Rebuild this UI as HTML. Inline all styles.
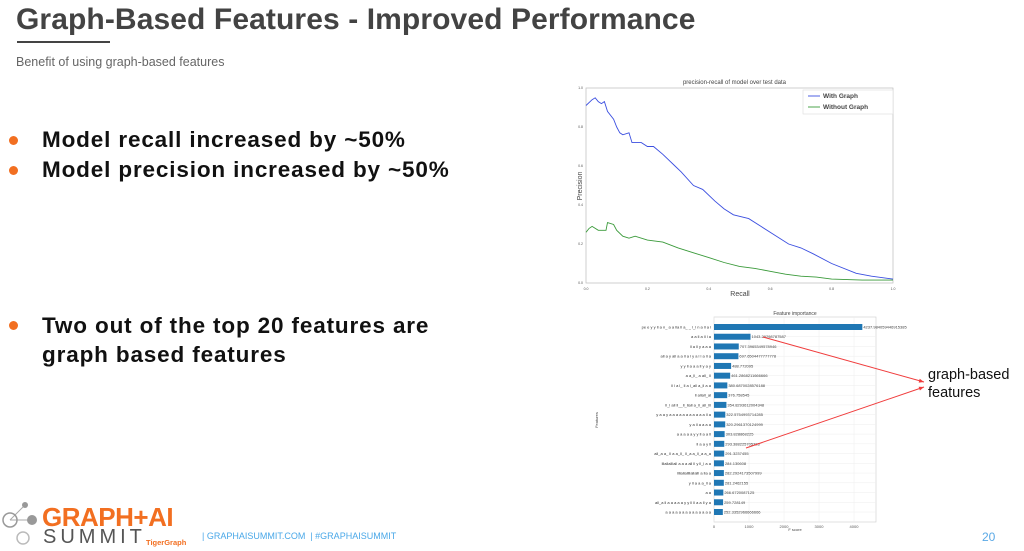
<!DOCTYPE html>
<html><head><meta charset="utf-8"><style>
body{margin:0;width:1024px;height:551px;background:#fff;position:relative;overflow:hidden;font-family:"Liberation Sans",sans-serif}
.a{position:absolute;white-space:nowrap}
.b{font-weight:bold;font-size:22.5px;letter-spacing:0.85px;color:#111}
.dot{position:absolute;width:9px;height:9px;border-radius:50%;background:#f26f21}
</style></head><body>
<div class="a" style="left:16px;top:3px;font-size:30px;letter-spacing:0.1px;font-weight:bold;color:#434343">Graph-Based Features - Improved Performance</div>
<div class="a" style="left:17px;top:41px;width:93px;height:2px;background:#444"></div>
<div class="a" style="left:16px;top:55px;font-size:12.5px;color:#666">Benefit of using graph-based features</div>
<div class="dot" style="left:9px;top:136px"></div>
<div class="a b" style="left:42px;top:127px">Model recall increased by ~50%</div>
<div class="dot" style="left:9px;top:166px"></div>
<div class="a b" style="left:42px;top:157px">Model precision increased by ~50%</div>
<div class="dot" style="left:9px;top:321px"></div>
<div class="a b" style="left:42px;top:311px;line-height:29px">Two out of the top 20 features are<br>graph based features</div>
<div class="a" style="left:928px;top:366px;font-size:14.5px;line-height:18px;color:#111">graph-based<br>features</div>
<div class="a" style="left:982px;top:530px;font-size:12px;color:#5aa9e6">20</div>
<div class="a" style="left:202px;top:531px;font-size:9px;color:#4aa8e8">| GRAPHAISUMMIT.COM &nbsp;| #GRAPHAISUMMIT</div>
<div class="a" style="left:42px;top:502px;font-size:26px;font-weight:bold;color:#f26f21;letter-spacing:-0.5px">GRAPH+AI</div>
<div class="a" style="left:43px;top:526px;font-size:20px;color:#555;letter-spacing:4px">SUMMIT</div>
<div class="a" style="left:146px;top:538px;font-size:7.5px;font-weight:bold;color:#f26f21">TigerGraph</div>
<svg class="a" style="left:0;top:498px" width="42" height="50">
<line x1="24" y1="8" x2="10" y2="22" stroke="#aaa"/><line x1="10" y1="22" x2="32" y2="22" stroke="#aaa"/>
<circle cx="25" cy="7" r="3" fill="#999"/><circle cx="10" cy="22" r="7" fill="none" stroke="#999" stroke-width="1.5"/><circle cx="32" cy="22" r="5" fill="#999"/><circle cx="23" cy="40" r="6" fill="none" stroke="#bbb" stroke-width="1.5"/></svg>
<svg id="pr" class="a" style="left:0;top:0" width="1024" height="551"></svg>
<script>
const recallBlue=[0,0.02,0.03,0.04,0.05,0.06,0.07,0.09,0.1,0.11,0.12,0.14,0.15,0.18,0.2,0.22,0.25,0.29,0.31,0.35,0.38,0.42,0.45,0.48,0.53,0.57,0.61,0.66,0.7,0.74,0.8,0.88,0.93,1.0];
const precBlue=[0.91,0.94,0.95,0.93,0.92,0.93,0.88,0.84,0.8,0.77,0.76,0.77,0.72,0.72,0.7,0.7,0.66,0.6,0.57,0.5,0.48,0.42,0.38,0.35,0.33,0.29,0.25,0.2,0.18,0.15,0.1,0.05,0.035,0.02];
const recallGreen=[0,0.01,0.02,0.04,0.06,0.065,0.07,0.09,0.1,0.12,0.14,0.16,0.2,0.25,0.3,0.35,0.4,0.45,0.5,0.55,0.6,0.65,0.7,0.75,0.8,0.9,1.0];
const precGreen=[0.26,0.28,0.29,0.27,0.27,0.27,0.31,0.3,0.27,0.24,0.23,0.24,0.22,0.21,0.18,0.155,0.13,0.105,0.085,0.075,0.06,0.045,0.035,0.03,0.02,0.015,0.015];
const prTicks=[0,0.2,0.4,0.6,0.8,1.0];
const featValues=[4237.98,1043.29,707.40,697.65,488.77,461.29,380.69,376.76,354.83,322.58,320.30,303.83,293.39,291.32,284.13,282.29,281.25,266.67,259.73,252.34];
const featLabels=["4237.984059446915385","1043.29298787587","707.3965349578946","697.6504477777778","488.772095","461.2868211666666","380.6870028576188","376.758545","354.8293612004348","322.5754993714285","320.2961370124999","303.828868225","293.388225705323","291.3237455","284.130608","282.2924173507999","281.2462155","266.6720087125","259.728149","252.3352966666666"];
const featNames=["pe e y y ll a n_ a a lla ll a_ _ l_l n a ll a l","a a ll a ll l a","ll a ll y a a a","all a y all a a ll a l y a l l a ll a","y y ll a a a ll y a y","a a_ll_ a all_ ll","ll l a l_ ll a l_all a_ll a a","ll allall_al","ll_l all ll__ll_llall a_ll_all_lll","y a a y a a a a a a a a a a a ll a","y a ll a a a a","a a a a a y y ll a a ll","ll a a y ll","all_a a_ ll a a_ll_ ll_a a_ll_a a_a","lllallalllall a a a all ll y ll_l a a","llllallallllallalll a lla a","y ll a a a_ll a","a a","all_a ll a a a a a y y ll ll a a ll y a","a a a a a a a a a a a a a a"];
const featTicks=[0,1000,2000,3000,4000];
const NS="http://www.w3.org/2000/svg";
const svg=document.getElementById('pr');
function mk(tag,at,parent){const e=document.createElementNS(NS,tag);for(const k in at)e.setAttribute(k,at[k]);(parent||svg).appendChild(e);return e;}
const px0=586,px1=893,py0=283,py1=88;
const X=r=>px0+r*(px1-px0), Y=p=>py0-p*(py0-py1);
let ax=mk('rect',{x:px0,y:py1,width:px1-px0,height:py0-py1,fill:'#fff',stroke:'#bbb','stroke-width':0.7});


prTicks.forEach(t=>{
 let a=mk('text',{x:X(t),y:py0+7,'font-size':3.5,'text-anchor':'middle',fill:'#555'});a.textContent=t.toFixed(1);
 
 
 let b=mk('text',{x:px0-3,y:Y(t)+1,'font-size':3.5,'text-anchor':'end',fill:'#555'});b.textContent=t.toFixed(1);
 
 
});
function line(xs,ys,col,name){let d=xs.map((r,i)=>(i?'L':'M')+X(r).toFixed(1)+','+Y(ys[i]).toFixed(1)).join('');
 let p=mk('path',{d:d,fill:'none',stroke:col,'stroke-width':0.9});
 
 }
line(recallBlue,precBlue,'#3b4fe0','with-graph-line');
line(recallGreen,precGreen,'#3a9a3a','without-graph-line');
let t=mk('text',{x:(px0+px1)/2-5,y:py1-4,'font-size':6,'text-anchor':'middle',fill:'#444'});t.textContent='precision-recall of model over test data';


t=mk('text',{x:740,y:296,'font-size':7,'text-anchor':'middle',fill:'#444'});t.textContent='Recall';


t=mk('text',{x:582,y:186,'font-size':7,'text-anchor':'middle',fill:'#444',transform:'rotate(-90 582 186)'});t.textContent='Precision';


let lg=mk('rect',{x:803,y:90,width:90,height:24,fill:'#fff',stroke:'#ddd','stroke-width':0.6});


[['With Graph','#3b4fe0',98],['Without Graph','#3a9a3a',109]].forEach(e=>{
 mk('line',{x1:808,y1:e[2]-2,x2:820,y2:e[2]-2,stroke:e[1],'stroke-width':0.9});
 let tx=mk('text',{x:823,y:e[2],'font-size':6.5,'font-weight':'bold',fill:'#444'});tx.textContent=e[0];
 
 
});
const fx0=714,fx1=876,fy0=317,fy1=522,per=35/1000;
const FX=v=>fx0+v*per;
let fa=mk('rect',{x:fx0,y:fy0,width:fx1-fx0,height:fy1-fy0,fill:'#fff',stroke:'#ccc','stroke-width':0.6});


featTicks.forEach(v=>{
 mk('line',{x1:FX(v),y1:fy0,x2:FX(v),y2:fy1,stroke:'#eee','stroke-width':0.5});
 let a=mk('text',{x:FX(v),y:fy1+6,'font-size':4,'text-anchor':'middle',fill:'#555'});a.textContent=v;
 
 
});
const step=(512-327)/19;
featValues.forEach((v,i)=>{
 const cy=327+i*step;
 mk('line',{x1:fx0,y1:cy,x2:fx1,y2:cy,stroke:'#eee','stroke-width':0.5});
 let r=mk('rect',{x:fx0,y:cy-3,width:FX(v)-fx0,height:6,fill:'#1f77b4'});
 
 
 let l=mk('text',{x:FX(v)+1,y:cy+1.5,'font-size':4,fill:'#444'});l.textContent=featLabels[i];
 
 
 let n=mk('text',{x:fx0-3,y:cy+1.5,'font-size':4,'text-anchor':'end',fill:'#333'});n.textContent=featNames[i];
 
 
});
t=mk('text',{x:795,y:315,'font-size':5,'text-anchor':'middle',fill:'#444'});t.textContent='Feature importance';


t=mk('text',{x:795,y:531,'font-size':4,'text-anchor':'middle',fill:'#444'});t.textContent='F score';


t=mk('text',{x:598,y:420,'font-size':4,'text-anchor':'middle',fill:'#444',transform:'rotate(-90 598 420)'});t.textContent='Features';


[[763,337,924,382],[746,448,924,387]].forEach(a=>{
 let l=mk('line',{x1:a[0],y1:a[1],x2:a[2],y2:a[3],stroke:'#f03c3c','stroke-width':1});
 
 
 const ang=Math.atan2(a[3]-a[1],a[2]-a[0]);
 const p=(d,o)=>[a[2]-d*Math.cos(ang)+o*Math.sin(ang),a[3]-d*Math.sin(ang)-o*Math.cos(ang)];
 const q=p(5,2),w=p(5,-2);
 mk('polygon',{points:`${a[2]},${a[3]} ${q} ${w}`,fill:'#f03c3c'});
});
</script>
</body></html>
